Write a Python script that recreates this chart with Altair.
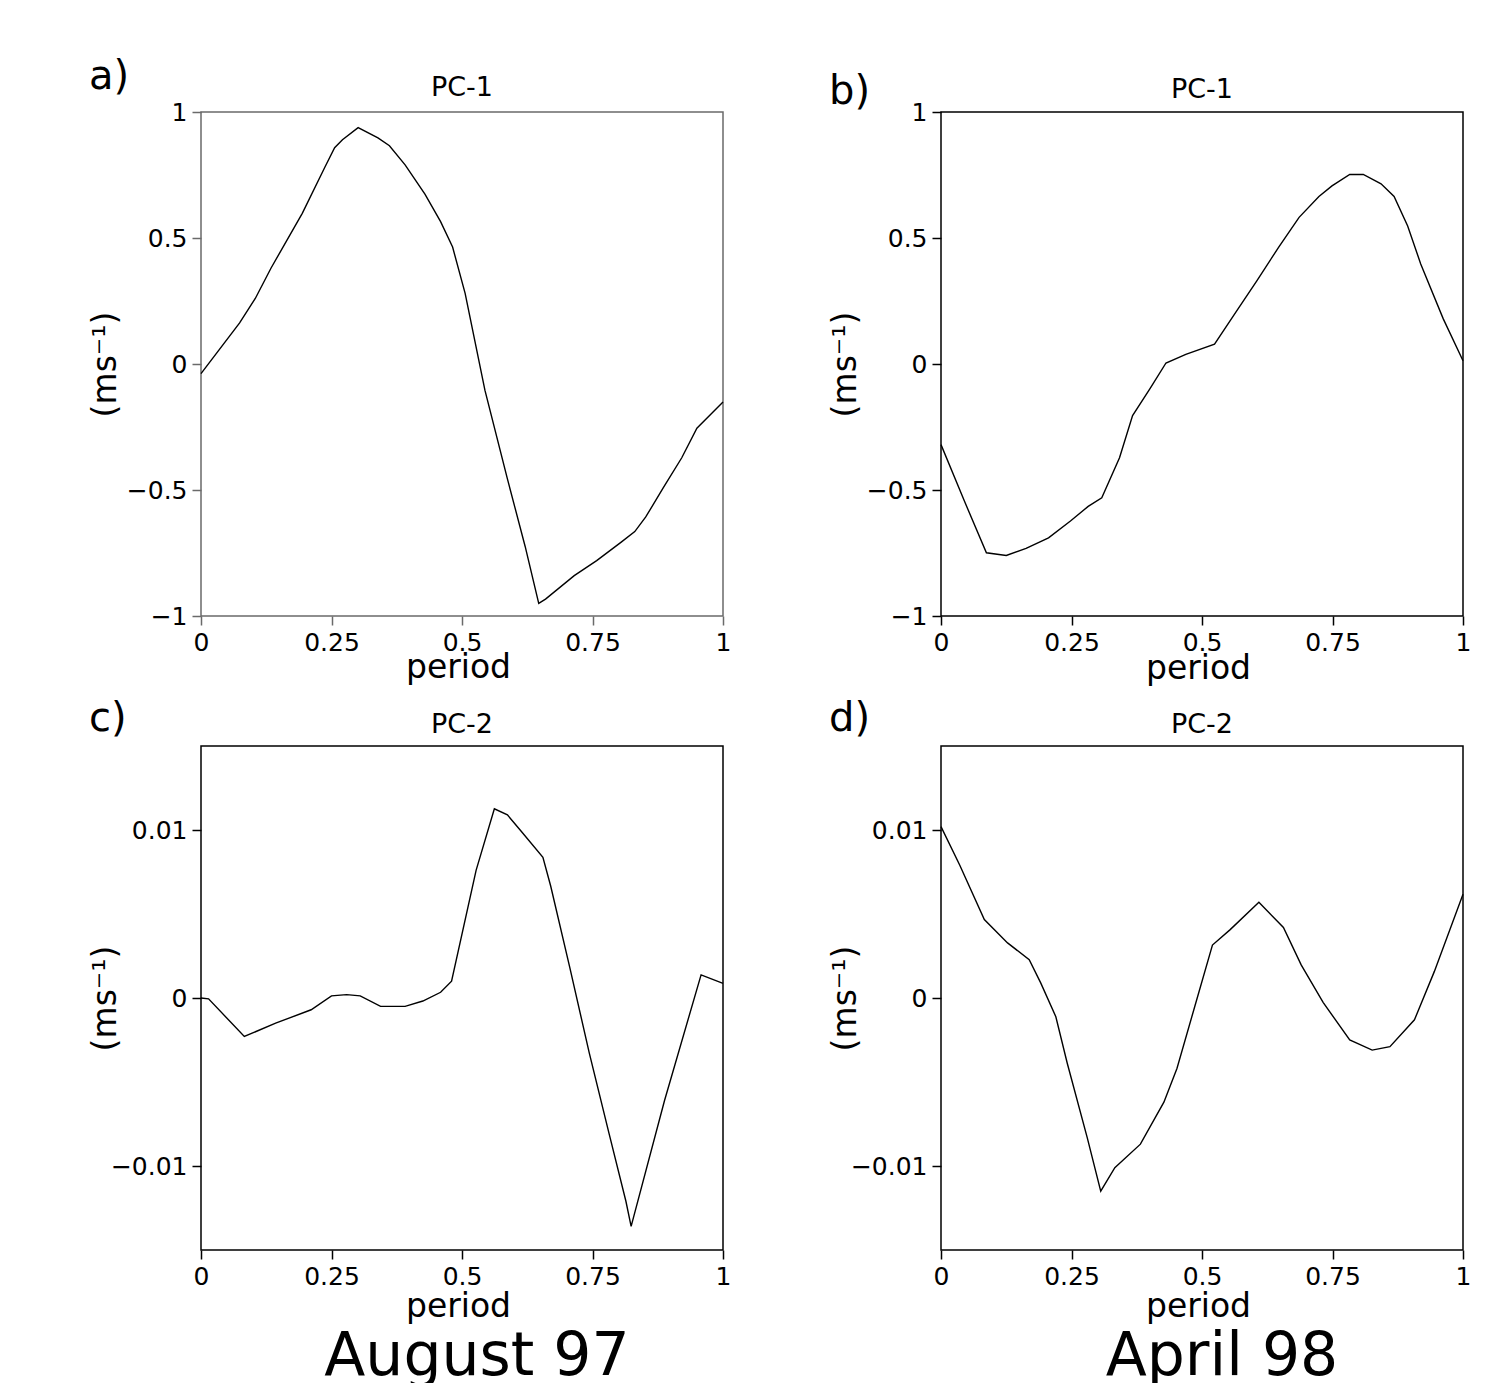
import altair as alt
import pandas as pd

# ---------------- data ----------------
a_x = [0, 0.074, 0.104, 0.134, 0.194, 0.237, 0.256, 0.271, 0.301, 0.339, 0.361, 0.391,
       0.429, 0.459, 0.482, 0.506, 0.544, 0.587, 0.621, 0.647, 0.66, 0.715, 0.758,
       0.805, 0.831, 0.852, 0.886, 0.921, 0.95, 1.0]
a_y = [-0.038, 0.163, 0.26, 0.38, 0.598, 0.78, 0.858, 0.89, 0.938, 0.897, 0.866, 0.79,
       0.674, 0.565, 0.464, 0.28, -0.105, -0.456, -0.724, -0.95, -0.933, -0.84, -0.78,
       -0.707, -0.665, -0.607, -0.49, -0.372, -0.255, -0.151]

b_x = [0, 0.044, 0.087, 0.125, 0.163, 0.206, 0.248, 0.282, 0.308, 0.342, 0.367, 0.401,
       0.431, 0.469, 0.524, 0.562, 0.605, 0.647, 0.686, 0.724, 0.749, 0.783, 0.809,
       0.843, 0.868, 0.894, 0.919, 0.962, 1.0]
b_y = [-0.32, -0.54, -0.749, -0.76, -0.732, -0.69, -0.623, -0.565, -0.531, -0.372,
       -0.205, -0.096, 0.004, 0.038, 0.079, 0.197, 0.33, 0.464, 0.582, 0.665, 0.707,
       0.752, 0.752, 0.715, 0.665, 0.548, 0.397, 0.18, 0.013]

c_x = [0, 0.0145, 0.083, 0.143, 0.211, 0.25, 0.279, 0.305, 0.344, 0.391, 0.425, 0.459,
       0.48, 0.527, 0.562, 0.587, 0.613, 0.655, 0.670, 0.706, 0.744, 0.782, 0.814,
       0.824, 0.888, 0.958, 1.0]
c_y = [0, -0.00005, -0.00229, -0.0015, -0.0007, 0.00013, 0.0002, 0.00013, -0.0005,
       -0.0005, -0.00018, 0.00034, 0.001, 0.0076, 0.01126, 0.0109, 0.00994, 0.00838,
       0.00665, 0.00188, -0.0033, -0.0081, -0.0121, -0.01359, -0.0061, 0.00138,
       0.00087]

d_x = [0, 0.036, 0.083, 0.1275, 0.169, 0.191, 0.22, 0.242, 0.28, 0.306, 0.333,
       0.382, 0.427, 0.452, 0.486, 0.52, 0.554, 0.609, 0.656, 0.69, 0.732, 0.783,
       0.826, 0.86, 0.907, 0.945, 1.0]
d_y = [0.0102, 0.0079, 0.00467, 0.00328, 0.00228, 0.0009, -0.00112, -0.0039, -0.0083,
       -0.0115, -0.0101, -0.0087, -0.0062, -0.0042, -0.00052, 0.00315, 0.00407,
       0.0057, 0.0042, 0.00197, -0.00026, -0.0025, -0.0031, -0.0029, -0.0013,
       0.00157, 0.00617]

x_ticks = [0, 0.25, 0.5, 0.75, 1]
pc1_ticks = [-1, -0.5, 0, 0.5, 1]
pc2_ticks = [-0.01, 0, 0.01]
panel_labels = ["a)", "b)", "c)", "d)"]
panel_titles = ["PC-1", "PC-1", "PC-2", "PC-2"]
captions = ["August 97", "April 98"]
x_title = "period"
y_title = "(ms⁻¹)"

FONT = "DejaVu Sans"
W, H = 522, 504


def panel(xs, ys, ydomain, yticks, yfmt, label, label_y, title, title_y,
          frame_color, xtitle_y, caption=None, caption_x=276):
    df = pd.DataFrame({"period": xs, "value": ys})
    axis_common = dict(
        grid=False, domain=False, ticks=True, tickSize=9, tickWidth=1.5,
        tickColor=frame_color, labelFont=FONT, labelFontSize=25, labelColor="black",
        labelFlush=False, labelOverlap=False, titleFont=FONT, titleFontWeight="normal",
        titleColor="black",
    )
    line = alt.Chart(df).mark_line(color="black", strokeWidth=1.4).encode(
        x=alt.X("period:Q",
                scale=alt.Scale(domain=[0, 1], nice=False, zero=False),
                axis=alt.Axis(values=x_ticks, format=".2~f", title=x_title,
                              labelPadding=5, titleFontSize=33, titleX=257,
                              titleY=xtitle_y, titleAlign="center",
                              titleBaseline="alphabetic", **axis_common)),
        y=alt.Y("value:Q",
                scale=alt.Scale(domain=ydomain, nice=False, zero=False),
                axis=alt.Axis(values=yticks, format=yfmt, title=y_title,
                              labelPadding=5, titleFontSize=33, titleX=-96,
                              titleY=252, titleAngle=270, titleAlign="center",
                              titleBaseline="middle", **axis_common)),
    )
    lab = alt.Chart(pd.DataFrame({"t": [label]})).mark_text(
        font=FONT, fontSize=40, align="left", baseline="alphabetic", color="black"
    ).encode(text="t:N", x=alt.value(-112), y=alt.value(label_y))
    ttl = alt.Chart(pd.DataFrame({"t": [title]})).mark_text(
        font=FONT, fontSize=27, align="center", baseline="alphabetic", color="black"
    ).encode(text="t:N", x=alt.value(261), y=alt.value(title_y))
    layers = [line, lab, ttl]
    if caption is not None:
        cap = alt.Chart(pd.DataFrame({"t": [caption]})).mark_text(
            font=FONT, fontSize=60, align="center", baseline="alphabetic", color="black"
        ).encode(text="t:N", x=alt.value(caption_x), y=alt.value(H + 125))
        layers.append(cap)
    return alt.layer(*layers).properties(
        width=W, height=H,
        view=alt.ViewBackground(stroke=frame_color, strokeWidth=1.5),
    )


pa = panel(a_x, a_y, [-1, 1], pc1_ticks, ".1~f", panel_labels[0], -23,
           panel_titles[0], -16, "#6a6a6a", 61)
pb = panel(b_x, b_y, [-1, 1], pc1_ticks, ".1~f", panel_labels[1], -8,
           panel_titles[1], -14, "black", 62)
pc = panel(c_x, c_y, [-0.015, 0.015], pc2_ticks, ".2~f", panel_labels[2], -15,
           panel_titles[2], -13, "black", 66, captions[0], 276)
pd_ = panel(d_x, d_y, [-0.015, 0.015], pc2_ticks, ".2~f", panel_labels[3], -15,
            panel_titles[3], -13, "black", 66, captions[1], 281)

chart = alt.concat(
    pa, pb, pc, pd_, columns=2,
    spacing={"row": 130, "column": 218},
    bounds="flush",
).properties(
    padding={"left": 80, "top": 48, "right": 5, "bottom": 0},
).configure_view(stroke="black")

chart.save("out.html", embed_options={"renderer": "svg", "actions": False})
